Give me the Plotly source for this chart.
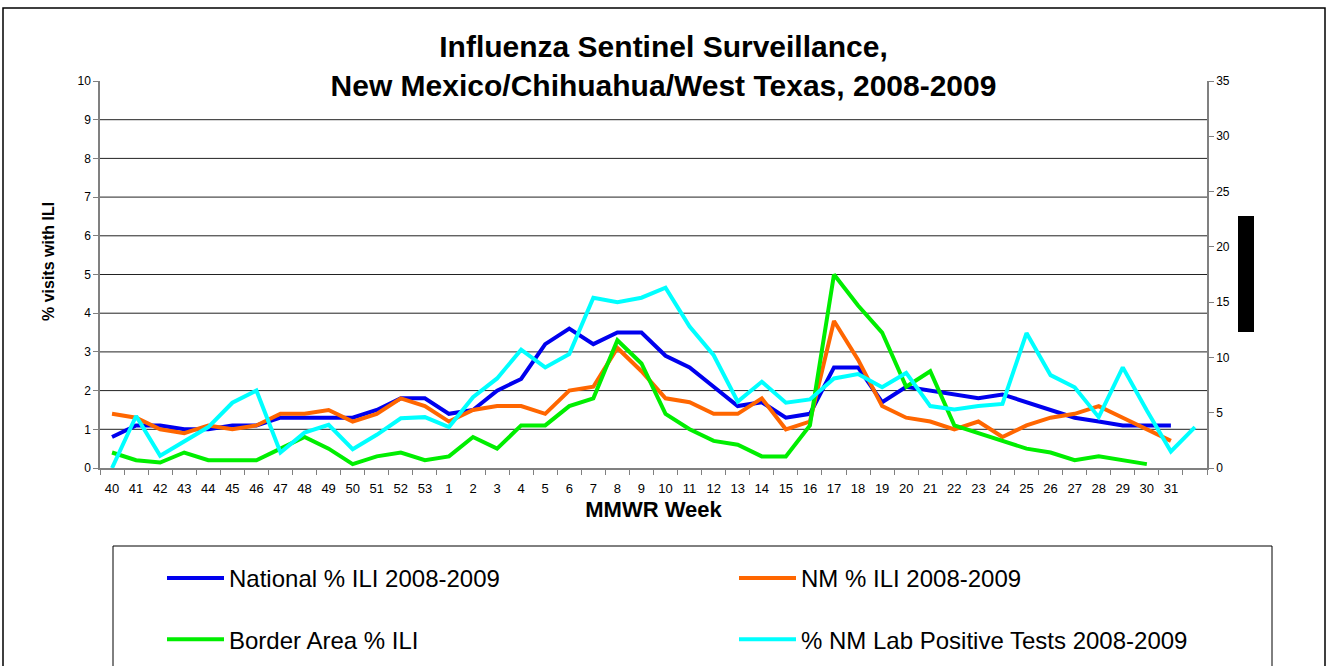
import plotly.graph_objects as go

# ---------------- data ----------------
weeks = [str(w) for w in range(40, 54)] + [str(w) for w in range(1, 32)] + [" "]

national_ili = [0.8, 1.1, 1.1, 1.0, 1.0, 1.1, 1.1, 1.3, 1.3, 1.3, 1.3, 1.5, 1.8, 1.8,
                1.4, 1.5, 2.0, 2.3, 3.2, 3.6, 3.2, 3.5, 3.5, 2.9, 2.6, 2.1, 1.6, 1.7,
                1.3, 1.4, 2.6, 2.6, 1.7, 2.1, 2.0, 1.9, 1.8, 1.9, 1.7, 1.5, 1.3, 1.2,
                1.1, 1.1, 1.1, None]

nm_ili = [1.4, 1.3, 1.0, 0.9, 1.1, 1.0, 1.1, 1.4, 1.4, 1.5, 1.2, 1.4, 1.8, 1.6,
          1.2, 1.5, 1.6, 1.6, 1.4, 2.0, 2.1, 3.1, 2.5, 1.8, 1.7, 1.4, 1.4, 1.8,
          1.0, 1.2, 3.8, 2.8, 1.6, 1.3, 1.2, 1.0, 1.2, 0.8, 1.1, 1.3, 1.4, 1.6,
          1.3, 1.0, 0.7, None]

border_ili = [0.4, 0.2, 0.14, 0.4, 0.2, 0.2, 0.2, 0.5, 0.8, 0.5, 0.1, 0.3, 0.4, 0.2,
              0.3, 0.8, 0.5, 1.1, 1.1, 1.6, 1.8, 3.3, 2.7, 1.4, 1.0, 0.7, 0.6, 0.3,
              0.3, 1.1, 5.0, 4.2, 3.5, 2.1, 2.5, 1.1, 0.9, 0.7, 0.5, 0.4, 0.2, 0.3,
              0.2, 0.1, None, None]

lab_positive = [0, 4.7, 1.1, 2.4, 3.7, 5.9, 7.0, 1.4, 3.2, 3.9, 1.7, 3.0, 4.5, 4.6,
                3.7, 6.4, 8.1, 10.7, 9.1, 10.3, 15.4, 15.0, 15.4, 16.3, 12.8, 10.2, 6.0, 7.8,
                5.9, 6.2, 8.1, 8.5, 7.3, 8.6, 5.6, 5.3, 5.6, 5.8, 12.2, 8.4, 7.3, 4.6,
                9.1, 5.2, 1.5, 3.7]

left_ticks = list(range(0, 11))
right_ticks = list(range(0, 36, 5))
grid_levels = list(range(1, 10))

# ---------------- geometry ----------------
W, H = 1327, 666
L, R, T, B = 100, 1207, 81, 468
FONT = "Arial, Liberation Sans, sans-serif"


def px(xp):
    return (xp - L) / (R - L)


def py(yp):
    return (B - yp) / (B - T)


fig = go.Figure()
fig.add_trace(go.Scatter(x=weeks, y=national_ili, name="National % ILI 2008-2009",
                         mode="lines", line=dict(color="#0000EE", width=4),
                         legend="legend", legendgroup="a"))
fig.add_trace(go.Scatter(x=weeks, y=nm_ili, name="NM % ILI 2008-2009",
                         mode="lines", line=dict(color="#FF6600", width=4),
                         legend="legend2", legendgroup="b"))
fig.add_trace(go.Scatter(x=weeks, y=border_ili, name="Border Area % ILI",
                         mode="lines", line=dict(color="#00EE00", width=4),
                         legend="legend", legendgroup="c"))
fig.add_trace(go.Scatter(x=weeks, y=lab_positive, name="% NM Lab Positive Tests 2008-2009",
                         mode="lines", line=dict(color="#00FFFF", width=4),
                         yaxis="y2", legend="legend2", legendgroup="d"))

shapes = []
for g in grid_levels:
    shapes.append(dict(type="line", xref="paper", yref="y", x0=0, x1=1, y0=g, y1=g,
                       line=dict(color="#222222", width=1), layer="below"))
# outer chart frame
shapes.append(dict(type="rect", xref="paper", yref="paper",
                   x0=px(3), x1=px(1325), y0=py(720), y1=py(8),
                   line=dict(color="#000000", width=1.5)))
# legend frame
shapes.append(dict(type="rect", xref="paper", yref="paper",
                   x0=px(113), x1=px(1272), y0=py(720), y1=py(546),
                   line=dict(color="#000000", width=1)))
# black box on the right side
shapes.append(dict(type="rect", xref="paper", yref="paper",
                   x0=px(1238), x1=px(1254), y0=py(332), y1=py(216),
                   fillcolor="#000000", line=dict(width=0)))

legend_common = dict(orientation="v", xref="container", yref="container",
                     xanchor="left", yanchor="top", bgcolor="rgba(0,0,0,0)",
                     borderwidth=0, itemwidth=57, traceorder="grouped",
                     tracegroupgap=27, font=dict(family=FONT, size=24, color="#000"))

fig.update_layout(
    width=W, height=H,
    margin=dict(l=L, r=W - R, t=T, b=H - B, pad=0, autoexpand=False),
    paper_bgcolor="white", plot_bgcolor="white",
    font=dict(family=FONT, color="#000000"),
    title=dict(text="Influenza Sentinel Surveillance,<br>New Mexico/Chihuahua/West Texas, 2008-2009",
               font=dict(family=FONT, size=30, color="#000", weight="bold"),
               xref="container", x=0.5, xanchor="center",
               yref="container", y=1 - 57 / H, yanchor="top"),
    xaxis=dict(type="category", categoryorder="array", categoryarray=weeks,
               range=[-0.5, len(weeks) - 0.5], showgrid=False, zeroline=False,
               tickmode="linear", dtick=1, tickangle=0, ticklabelstandoff=8,
               showline=True, linecolor="#808080", linewidth=1.5,
               ticks="outside", tickson="boundaries", ticklen=5, tickcolor="#808080",
               tickfont=dict(family=FONT, size=13, color="#000"),
               title=dict(text="MMWR Week", standoff=6,
                          font=dict(family=FONT, size=22, color="#000", weight="bold"))),
    yaxis=dict(range=[0, 10], tickvals=left_ticks, showgrid=False, zeroline=False,
               showline=True, linecolor="#808080", linewidth=1.5,
               ticks="outside", ticklen=5, tickcolor="#808080",
               tickfont=dict(family=FONT, size=12, color="#000")),
    yaxis2=dict(range=[0, 35], tickvals=right_ticks, overlaying="y", side="right",
                showgrid=False, zeroline=False, showline=True, linecolor="#808080",
                linewidth=1.5, ticks="outside", ticklen=5, tickcolor="#808080",
                tickfont=dict(family=FONT, size=12, color="#000")),
    legend=dict(x=162 / W, y=1 - 556 / H, **legend_common),
    legend2=dict(x=734 / W, y=1 - 556 / H, **legend_common),
    annotations=[dict(text="% visits with ILI", textangle=-90, showarrow=False,
                      xref="paper", yref="paper", x=px(48), y=py(262),
                      xanchor="center", yanchor="middle",
                      font=dict(family=FONT, size=16, color="#000", weight="bold"))],
    shapes=shapes,
    showlegend=True,
)

fig.write_html("out.html", config={"displayModeBar": False},
               post_script="document.body.style.margin='0px';document.body.style.overflow='hidden';")
